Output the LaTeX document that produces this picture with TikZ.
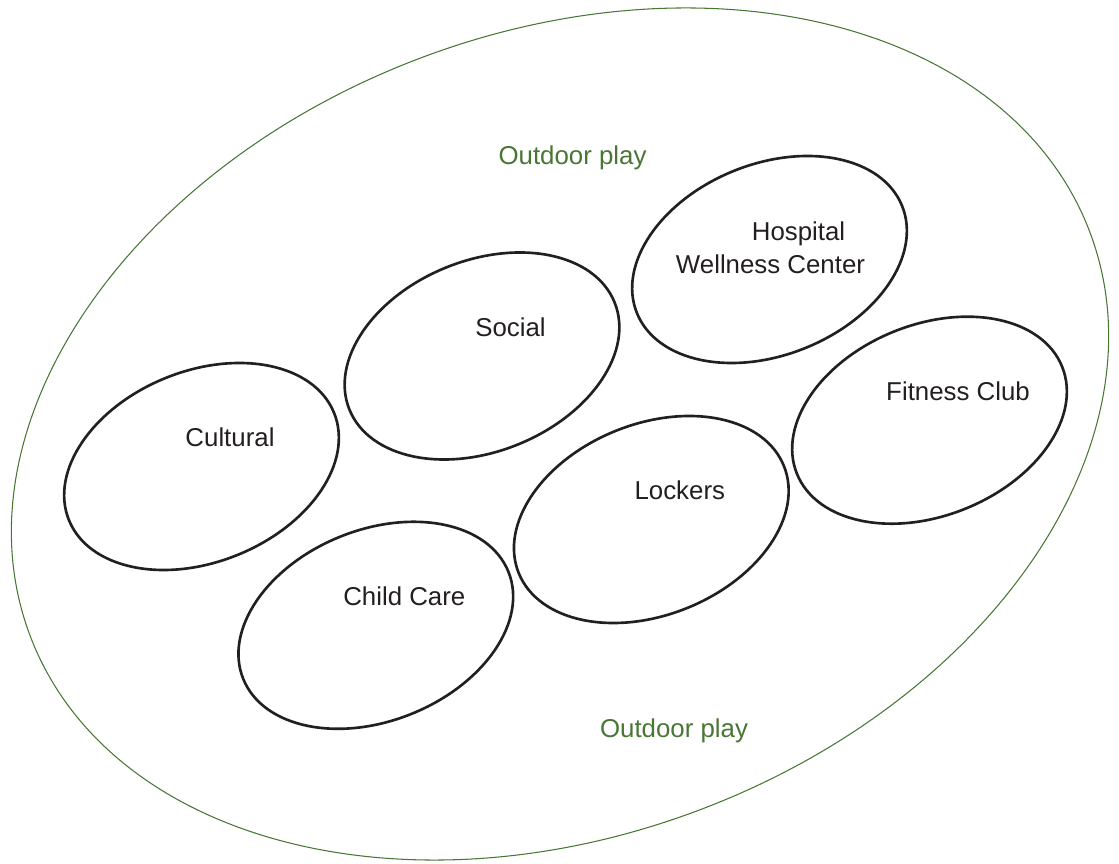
\documentclass[tikz,border=0pt]{standalone}
\usepackage{fontspec}
\setmainfont{Liberation Sans}
\definecolor{Grass}{RGB}{72, 118, 52}
\definecolor{Ink}{RGB}{35, 31, 32}
\usepackage{tikz}
\usetikzlibrary{positioning, shapes.geometric}

\begin{document}
\begin{tikzpicture}[
        yard/.style={ellipse, draw=Grass, line width=0.6pt, minimum width=22.68cm, minimum height=16.04cm, inner sep=0pt},
        room/.style={ellipse, draw=Ink, line width=1.5pt, minimum width=5.72cm, minimum height=3.82cm, inner sep=0pt, rotate=22},
        lbl/.style={anchor=base, inner sep=0pt, text=Ink, align=center, font=\fontsize{14.7}{18.5}\selectfont},
        play/.style={lbl, text=Grass}
    ]
        \useasboundingbox (0,0) rectangle (22.38,17.26);
        % outer play area
        \node[yard, rotate=21] (yard) at (11.2,8.58) {};
        \node[play] (playtop) at (11.45,13.96) {Outdoor play};
        \node[play] (playbot) at (13.48,2.506) {Outdoor play};
        % rooms
        \node[room] (cultural) at (4.03,7.93) {};
        \node[room] (social) at (9.64,10.14) {};
        \node[room] (hospital) at (15.39,12.07) {};
        \node[room] (fitness) at (18.59,8.856) {};
        \node[room] (lockers) at (13.026,6.87) {};
        \node[room] (childcare) at (7.516,4.754) {};
        % room names
        \node[lbl] (culturaltxt) at ([shift={(0.57,0.39)}]cultural.center) {Cultural};
        \node[lbl] (socialtxt) at ([shift={(0.57,0.39)}]social.center) {Social};
        \node[lbl] (hospitaltxt) at ([shift={(0.02,-0.276)}]hospital.center) {\hspace*{1.12cm}Hospital\\Wellness Center};
        \node[lbl] (fitnesstxt) at ([shift={(0.57,0.39)}]fitness.center) {Fitness Club};
        \node[lbl] (lockerstxt) at ([shift={(0.57,0.39)}]lockers.center) {Lockers};
        \node[lbl] (childcaretxt) at ([shift={(0.57,0.39)}]childcare.center) {Child Care};
    \end{tikzpicture}
\end{document}
